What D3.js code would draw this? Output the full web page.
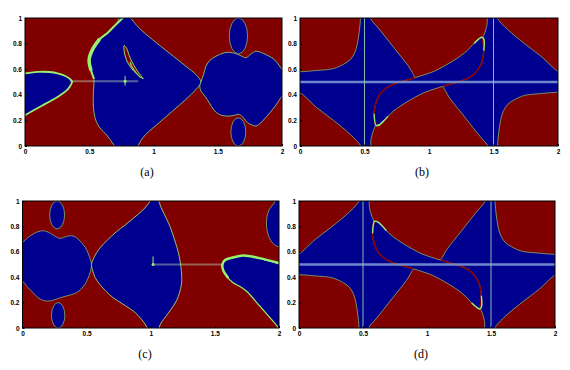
<!DOCTYPE html>
<html>
<head>
<meta charset="utf-8">
<script src="https://cdn.jsdelivr.net/npm/d3@7"></script>
<style>
body { margin: 0; background: #fff; }
svg { display: block; }
</style>
</head>
<body>
<svg id="chart" width="570" height="370"></svg>
<script>
// tick labels and captions
const xTicks = [0, 0.5, 1, 1.5, 2];
const yTicks = [0, 0.2, 0.4, 0.6, 0.8, 1];
const captions = ["(a)", "(b)", "(c)", "(d)"];

// panel (a): basin outlines in data units (x 0..2, y 0..1)
const aLeft = [[-0.05,0.57],[0,0.568],[0.1,0.579],[0.19,0.578],[0.26,0.566],[0.31,0.549],[0.345,0.528],[0.367,0.503],[0.355,0.475],[0.33,0.44],[0.265,0.39],[0.2,0.352],[0.135,0.317],[0.06,0.275],[0,0.24],[-0.05,0.21]];
const aMid = [[0.75,1.02],[0.72,0.97],[0.694,0.935],[0.642,0.883],[0.577,0.831],[0.525,0.753],[0.499,0.675],[0.512,0.597],[0.536,0.519],[0.532,0.416],[0.532,0.312],[0.545,0.22],[0.577,0.15],[0.642,0.078],[0.69,0.01],[0.71,-0.02],[0.86,-0.02],[0.9,0.04],[0.94,0.091],[1.044,0.182],[1.148,0.273],[1.252,0.364],[1.33,0.442],[1.369,0.499],[1.33,0.558],[1.252,0.623],[1.122,0.727],[0.992,0.831],[0.888,0.922],[0.83,0.99],[0.81,1.02]];
const aRight = [[1.369,0.499],[1.39,0.56],[1.408,0.623],[1.44,0.67],[1.486,0.701],[1.54,0.725],[1.589,0.732],[1.64,0.722],[1.68,0.705],[1.72,0.69],[1.76,0.72],[1.797,0.74],[1.84,0.73],[1.875,0.714],[1.92,0.69],[1.953,0.662],[2,0.597],[2.03,0.55],[2.03,0.42],[2,0.39],[1.96,0.33],[1.927,0.286],[1.88,0.23],[1.849,0.195],[1.82,0.168],[1.797,0.156],[1.765,0.165],[1.732,0.182],[1.7,0.22],[1.668,0.247],[1.63,0.24],[1.589,0.234],[1.55,0.236],[1.512,0.247],[1.47,0.28],[1.434,0.338],[1.4,0.39],[1.369,0.429],[1.36,0.47]];
const aEllipses = [[1.661,0.86,0.071,0.14],[1.66,0.11,0.058,0.11]]; // cx, cy, rx, ry
const aSpike = [[0.771,0.785],[0.79,0.765],[0.805,0.725],[0.82,0.685],[0.845,0.635],[0.88,0.578],[0.92,0.525],[0.87,0.562],[0.83,0.605],[0.8,0.65],[0.782,0.695],[0.772,0.74]];
const aSpike2 = [[0.818,0.658],[0.835,0.62],[0.862,0.578],[0.9,0.532],[0.87,0.565],[0.84,0.603],[0.822,0.632]];
const aThick = [[0.76,1],[0.694,0.935],[0.642,0.883],[0.577,0.831],[0.525,0.753],[0.499,0.675],[0.512,0.597],[0.535,0.53]];
const aRidge = [[0.356,0.505],[0.875,0.505]];
const aPoint = [0.779, 0.505];

// panel (b)
const bB1 = [[-0.03,0.58],[0,0.58],[0.13,0.59],[0.26,0.605],[0.34,0.64],[0.39,0.675],[0.425,0.73],[0.445,0.8],[0.46,0.9],[0.468,0.98],[0.47,1.03],[0.54,1.03],[0.55,0.99],[0.6,0.93],[0.66,0.855],[0.73,0.765],[0.79,0.69],[0.84,0.625],[0.87,0.575],[0.886,0.54],[0.88,0.528],[0.76,0.495],[0.68,0.46],[0.625,0.41],[0.59,0.34],[0.575,0.25],[0.585,0.165],[0.565,0.11],[0.55,0.05],[0.54,-0.03],[0.47,-0.03],[0.47,0],[0.39,0.09],[0.26,0.2],[0.13,0.3],[0,0.416],[-0.03,0.42]];
const bC = [[0.59,0.16],[0.575,0.25],[0.59,0.34],[0.625,0.41],[0.68,0.46],[0.76,0.495],[0.886,0.532],[0.96,0.555],[1.041,0.584],[1.11,0.62],[1.171,0.655],[1.225,0.69],[1.275,0.727],[1.32,0.77],[1.352,0.805],[1.385,0.835],[1.41,0.85],[1.425,0.835],[1.425,0.75],[1.41,0.66],[1.375,0.59],[1.32,0.54],[1.24,0.505],[1.114,0.468],[1.04,0.445],[0.959,0.416],[0.89,0.38],[0.829,0.345],[0.775,0.31],[0.725,0.273],[0.68,0.23],[0.648,0.195],[0.615,0.165]];
const bB2 = [[2.03,0.42],[2,0.42],[1.87,0.41],[1.74,0.395],[1.66,0.36],[1.61,0.325],[1.575,0.27],[1.555,0.2],[1.54,0.1],[1.532,0.02],[1.53,-0.03],[1.46,-0.03],[1.45,0.01],[1.4,0.07],[1.34,0.145],[1.27,0.235],[1.21,0.31],[1.16,0.375],[1.13,0.425],[1.114,0.46],[1.12,0.472],[1.24,0.505],[1.32,0.54],[1.375,0.59],[1.41,0.66],[1.425,0.75],[1.415,0.835],[1.435,0.89],[1.45,0.95],[1.46,1.03],[1.53,1.03],[1.53,1],[1.61,0.91],[1.74,0.8],[1.87,0.7],[2,0.584],[2.03,0.58]];
const bSeps = [
  [[0.59,0.16],[0.575,0.25],[0.59,0.34],[0.625,0.41],[0.68,0.46],[0.76,0.495],[0.886,0.532]],
  [[1.114,0.468],[1.24,0.505],[1.32,0.54],[1.375,0.59],[1.41,0.66],[1.425,0.75],[1.41,0.85]]
];
const bLevel = 0.5;
const bVerticals = [0.5, 1.5];

// panel (c)
const cLeft = [[-0.03,0.67],[0,0.675],[0.04,0.71],[0.083,0.74],[0.12,0.758],[0.161,0.766],[0.2,0.755],[0.239,0.732],[0.291,0.706],[0.33,0.716],[0.375,0.727],[0.41,0.718],[0.44,0.694],[0.475,0.655],[0.5,0.616],[0.522,0.56],[0.538,0.499],[0.528,0.44],[0.51,0.39],[0.486,0.343],[0.455,0.305],[0.42,0.278],[0.38,0.262],[0.343,0.252],[0.3,0.24],[0.25,0.222],[0.2,0.212],[0.16,0.218],[0.12,0.24],[0.083,0.278],[0.04,0.32],[0,0.369],[-0.03,0.37]];
const cMid = [[0.538,0.499],[0.56,0.56],[0.603,0.629],[0.66,0.69],[0.732,0.758],[0.8,0.81],[0.862,0.862],[0.94,0.93],[0.99,0.99],[1.005,1.02],[1.05,1.02],[1.08,0.95],[1.122,0.862],[1.15,0.8],[1.174,0.732],[1.195,0.665],[1.213,0.603],[1.23,0.52],[1.239,0.447],[1.242,0.39],[1.239,0.343],[1.225,0.28],[1.2,0.213],[1.16,0.15],[1.122,0.096],[1.08,0.04],[1.05,-0.02],[0.99,-0.02],[0.95,0.04],[0.9,0.1],[0.862,0.135],[0.78,0.19],[0.706,0.239],[0.65,0.29],[0.603,0.343],[0.565,0.4],[0.545,0.46]];
const cRight = [[1.558,0.499],[1.575,0.532],[1.616,0.55],[1.66,0.562],[1.719,0.571],[1.78,0.565],[1.849,0.548],[1.92,0.528],[2,0.506],[2.03,0.5],[2.03,-0.03],[1.99,-0.03],[1.99,0.005],[1.927,0.083],[1.849,0.174],[1.745,0.291],[1.69,0.33],[1.642,0.356],[1.59,0.408],[1.565,0.45]];
const cTopRight = [[2.03,1.03],[1.99,1.03],[1.96,0.98],[1.925,0.935],[1.905,0.87],[1.903,0.8],[1.914,0.74],[1.935,0.69],[1.965,0.655],[2,0.64],[2.03,0.64]];
const cEllipses = [[0.27,0.89,0.058,0.11],[0.278,0.1,0.052,0.1]];
const cThick = [[1.6,0.4],[1.567,0.45],[1.558,0.499],[1.58,0.535],[1.642,0.555],[1.719,0.571],[1.849,0.55],[2.02,0.505]];
const cRidge = [[1.018,0.5],[1.564,0.5]];
const cPoint = [1.018, 0.5];

// panel (d)
const dB1 = [[-0.03,0.42],[0,0.42],[0.13,0.41],[0.26,0.395],[0.34,0.36],[0.39,0.325],[0.425,0.27],[0.445,0.2],[0.46,0.1],[0.468,0.02],[0.47,-0.03],[0.54,-0.03],[0.55,0.01],[0.6,0.07],[0.66,0.145],[0.73,0.235],[0.79,0.31],[0.84,0.375],[0.87,0.425],[0.886,0.46],[0.88,0.472],[0.76,0.505],[0.68,0.54],[0.625,0.59],[0.59,0.66],[0.575,0.75],[0.585,0.835],[0.565,0.89],[0.55,0.95],[0.54,1.03],[0.47,1.03],[0.47,1],[0.39,0.91],[0.26,0.8],[0.13,0.7],[0,0.584],[-0.03,0.58]];
const dC = [[0.59,0.84],[0.575,0.75],[0.59,0.66],[0.625,0.59],[0.68,0.54],[0.76,0.505],[0.886,0.468],[0.96,0.445],[1.041,0.416],[1.11,0.38],[1.171,0.345],[1.225,0.31],[1.275,0.273],[1.32,0.23],[1.352,0.195],[1.385,0.165],[1.41,0.15],[1.425,0.165],[1.425,0.25],[1.41,0.34],[1.375,0.41],[1.32,0.46],[1.24,0.495],[1.114,0.532],[1.04,0.555],[0.959,0.584],[0.89,0.62],[0.829,0.655],[0.775,0.69],[0.725,0.727],[0.68,0.77],[0.648,0.805],[0.615,0.835]];
const dB2 = [[2.03,0.58],[2,0.58],[1.87,0.59],[1.74,0.605],[1.66,0.64],[1.61,0.675],[1.575,0.73],[1.555,0.8],[1.54,0.9],[1.532,0.98],[1.53,1.03],[1.46,1.03],[1.45,0.99],[1.4,0.93],[1.34,0.855],[1.27,0.765],[1.21,0.69],[1.16,0.625],[1.13,0.575],[1.114,0.54],[1.12,0.528],[1.24,0.495],[1.32,0.46],[1.375,0.41],[1.41,0.34],[1.425,0.25],[1.415,0.165],[1.435,0.11],[1.45,0.05],[1.46,-0.03],[1.53,-0.03],[1.53,0],[1.61,0.09],[1.74,0.2],[1.87,0.3],[2,0.416],[2.03,0.42]];
const dSeps = [
  [[0.59,0.84],[0.575,0.75],[0.59,0.66],[0.625,0.59],[0.68,0.54],[0.76,0.505],[0.886,0.468]],
  [[1.114,0.532],[1.24,0.495],[1.32,0.46],[1.375,0.41],[1.41,0.34],[1.425,0.25],[1.41,0.15]]
];
const dLevel = 0.5;
const dVerticals = [0.5, 1.5];

const RED = "#800000", BLUE = "#00008f", GREEN = "#98f070", EDGE = "#86b070";

const svg = d3.select("#chart");
const defs = svg.append("defs");
const open = d3.line().curve(d3.curveCatmullRom.alpha(0.5));
const closed = d3.line().curve(d3.curveCatmullRomClosed.alpha(0.5));

function makePanel(id, box) {
    const x = d3.scaleLinear().domain([0, 2]).range([box.left, box.right]);
    const y = d3.scaleLinear().domain([0, 1]).range([box.bottom, box.top]);
    defs.append("clipPath").attr("id", "clip-" + id).append("rect")
        .attr("x", box.left).attr("y", box.top)
        .attr("width", box.right - box.left).attr("height", box.bottom - box.top);
    const g = svg.append("g").attr("clip-path", `url(#clip-${id})`);
    g.append("rect")
        .attr("x", box.left).attr("y", box.top)
        .attr("width", box.right - box.left).attr("height", box.bottom - box.top)
        .attr("fill", RED);
    return { g, x, y, box };
}

function blob(p, pts, fill, edge, w) {
    p.g.append("path")
        .attr("d", closed(pts.map(d => [p.x(d[0]), p.y(d[1])])))
        .attr("fill", fill)
        .attr("stroke", edge || "none")
        .attr("stroke-width", w || 1);
}

function curve(p, pts, color, w, op) {
    p.g.append("path")
        .attr("d", open(pts.map(d => [p.x(d[0]), p.y(d[1])])))
        .attr("fill", "none")
        .attr("stroke", color)
        .attr("stroke-width", w)
        .attr("stroke-opacity", op == null ? 1 : op)
        .attr("stroke-linecap", "round");
}

function ovals(p, list) {
    p.g.selectAll(null).data(list).enter().append("ellipse")
        .attr("cx", d => p.x(d[0])).attr("cy", d => p.y(d[1]))
        .attr("rx", d => p.x(d[2]) - p.x(0)).attr("ry", d => p.y(0) - p.y(d[3]))
        .attr("fill", BLUE).attr("stroke", EDGE).attr("stroke-width", 0.8);
}

function frame(p, caption, capX, capY) {
    const b = p.box;
    svg.append("rect")
        .attr("x", b.left).attr("y", b.top)
        .attr("width", b.right - b.left).attr("height", b.bottom - b.top)
        .attr("fill", "none").attr("stroke", "#000").attr("stroke-width", 1);
    const ax = svg.append("g").attr("transform", `translate(0,${b.bottom})`)
        .call(d3.axisBottom(p.x).tickValues(xTicks).tickSizeInner(-2).tickSizeOuter(0).tickPadding(3).tickFormat(d => String(d)));
    const ay = svg.append("g").attr("transform", `translate(${b.left},0)`)
        .call(d3.axisLeft(p.y).tickValues(yTicks).tickSizeInner(-2).tickSizeOuter(0).tickPadding(3).tickFormat(d => String(d)));
    [ax, ay].forEach(a => {
        a.select(".domain").remove();
        a.selectAll("text").attr("font-family", "Liberation Sans, Arial, sans-serif")
            .attr("font-size", 6.5).attr("font-weight", "bold").attr("fill", "#000");
    });
    svg.append("text").attr("x", capX).attr("y", capY).attr("text-anchor", "middle")
        .attr("font-family", "Liberation Serif, serif").attr("font-size", 12).attr("fill", "#000")
        .text(caption);
}

// (a)
const pa = makePanel("a", { left: 25, right: 282, top: 18, bottom: 146 });
blob(pa, aLeft, BLUE, GREEN, 1.8);
blob(pa, aMid, BLUE, EDGE, 1);
blob(pa, aRight, BLUE, EDGE, 1);
ovals(pa, aEllipses);
curve(pa, aThick, GREEN, 2);
curve(pa, aThick.slice(3, 7), GREEN, 3.5);
blob(pa, aSpike, RED, GREEN, 0.9);
blob(pa, aSpike2, RED, GREEN, 0.8);
curve(pa, aRidge, "#b8d8b0", 2, 0.45);
pa.g.append("circle").attr("cx", pa.x(aPoint[0])).attr("cy", pa.y(aPoint[1])).attr("r", 1.5).attr("fill", GREEN);
curve(pa, [[aPoint[0], aPoint[1] - 0.03], [aPoint[0], aPoint[1] + 0.04]], GREEN, 1);
frame(pa, captions[0], 147, 176);

// (b)
const pb = makePanel("b", { left: 300, right: 558, top: 18, bottom: 146 });
blob(pb, bB1, BLUE, EDGE, 0.8);
blob(pb, bB2, BLUE, EDGE, 0.8);
blob(pb, bC, BLUE, EDGE, 0.8);
bSeps.forEach(s => curve(pb, s, "#8a0000", 1.6));
curve(pb, bC.slice(14, 19), GREEN, 1.4);
curve(pb, bC.slice(30).concat(bC.slice(0, 2)), GREEN, 1.2);
curve(pb, [[0.6, 0.16], [0.615, 0.165], [0.648, 0.195]], GREEN, 1.4);
curve(pb, [[pb.x.invert(pb.box.left), bLevel], [pb.x.invert(pb.box.right), bLevel]], "#7f9fd8", 2.5, 0.85);
bVerticals.forEach(v => curve(pb, [[v, 0], [v, 1]], "#8fd0a8", 1, 0.9));
frame(pb, captions[1], 422, 176);

// (c)
const pc = makePanel("c", { left: 22.5, right: 279, top: 201, bottom: 328 });
blob(pc, cLeft, BLUE, EDGE, 0.8);
blob(pc, cMid, BLUE, "#9ac070", 1);
blob(pc, cRight, BLUE, GREEN, 1.2);
blob(pc, cTopRight, BLUE, EDGE, 0.8);
ovals(pc, cEllipses);
curve(pc, cThick, GREEN, 2.5);
curve(pc, cRidge, "#b8d8b0", 2, 0.45);
pc.g.append("circle").attr("cx", pc.x(cPoint[0])).attr("cy", pc.y(cPoint[1])).attr("r", 1.5).attr("fill", GREEN);
curve(pc, [[cPoint[0], cPoint[1]], [cPoint[0], cPoint[1] + 0.06]], GREEN, 1);
frame(pc, captions[2], 145, 358);

// (d)
const pd = makePanel("d", { left: 299, right: 555, top: 201, bottom: 328 });
blob(pd, dB1, BLUE, EDGE, 0.8);
blob(pd, dB2, BLUE, EDGE, 0.8);
blob(pd, dC, BLUE, EDGE, 0.8);
dSeps.forEach(s => curve(pd, s, "#8a0000", 1.6));
curve(pd, dC.slice(14, 19), GREEN, 1.4);
curve(pd, dC.slice(30).concat(dC.slice(0, 2)), GREEN, 1.4);
curve(pd, [[pd.x.invert(pd.box.left), dLevel], [pd.x.invert(pd.box.right), dLevel]], "#7f9fd8", 2.5, 0.85);
dVerticals.forEach(v => curve(pd, [[v, 0], [v, 1]], "#8fd0a8", 1, 0.9));
frame(pd, captions[3], 421, 358);
</script>
</body>
</html>
